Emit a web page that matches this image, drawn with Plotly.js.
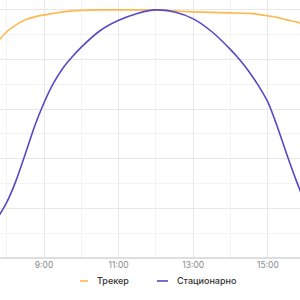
<!DOCTYPE html>
<html>
<head>
<meta charset="utf-8">
<script src="https://cdn.plot.ly/plotly-3.0.1.min.js"></script>
<style>html,body{margin:0;padding:0;background:#fff;}#chart{width:300px;height:300px;}</style>
</head>
<body>
<div id="chart"></div>
<script>
var hours = [7.75, 8.0, 8.25, 8.5, 8.75, 9.0, 9.25, 9.5, 9.75, 10.0, 10.5, 11.0, 11.5, 12.0, 12.5, 13.0, 13.5, 14.0, 14.25, 14.5, 14.75, 15.0, 15.25, 15.5, 15.75, 16.0];
var tracker = [4.35, 4.56, 4.70, 4.80, 4.86, 4.90, 4.93, 4.96, 4.98, 4.99, 5.0, 5.0, 5.0, 5.0, 4.98, 4.96, 4.95, 4.94, 4.935, 4.93, 4.91, 4.88, 4.85, 4.80, 4.76, 4.70];
var stationary = [0.80, 1.12, 1.56, 2.10, 2.66, 3.13, 3.52, 3.82, 4.05, 4.25, 4.58, 4.79, 4.93, 5.0, 4.96, 4.82, 4.56, 4.20, 3.99, 3.75, 3.47, 3.14, 2.65, 2.10, 1.58, 1.10];
var tickVals = [9, 11, 13, 15];
var tickText = ["9:00", "11:00", "13:00", "15:00"];
var seriesNames = ["Трекер", "Стационарно"];
var seriesColors = ["#FFB84D", "#5849C4"];

var traces = [
  {x: hours, y: tracker, name: seriesNames[0], type: 'scatter', mode: 'lines',
   line: {color: seriesColors[0], width: 1.6, shape: 'spline', smoothing: 0.7}},
  {x: hours, y: stationary, name: seriesNames[1], type: 'scatter', mode: 'lines',
   line: {color: seriesColors[1], width: 1.6, shape: 'spline', smoothing: 0.7}}
];

var legendY = -0.089;
var layout = {
  width: 300, height: 300,
  margin: {l: 0, r: 0, t: 0, b: 42},
  paper_bgcolor: '#fff', plot_bgcolor: '#fff',
  showlegend: false,
  xaxis: {
    range: [7.82, 15.86],
    tickmode: 'array', tickvals: tickVals, ticktext: tickText,
    ticks: '', showgrid: true, gridcolor: '#e8e8e8', gridwidth: 1,
    zeroline: false, showline: false,
    tickfont: {family: 'Inter, sans-serif', size: 8.5, color: '#8a8a8a'},
    minor: {tickmode: 'linear', tick0: 0, dtick: 1, showgrid: true, gridcolor: '#f3f3f3', gridwidth: 1}
  },
  yaxis: {
    range: [0, 5.2],
    tickmode: 'linear', tick0: 0, dtick: 1,
    showticklabels: false, ticks: '',
    showgrid: true, gridcolor: '#e8e8e8', gridwidth: 1,
    zeroline: true, zerolinecolor: '#dedede', zerolinewidth: 1.5,
    minor: {tickmode: 'linear', tick0: 0, dtick: 0.5, showgrid: true, gridcolor: '#f3f3f3', gridwidth: 1}
  },
  shapes: [
    {type: 'line', xref: 'paper', yref: 'paper', x0: 80/300, x1: 88/300, y0: legendY, y1: legendY,
     line: {color: seriesColors[0], width: 1.6}},
    {type: 'line', xref: 'paper', yref: 'paper', x0: 157/300, x1: 168/300, y0: legendY, y1: legendY,
     line: {color: seriesColors[1], width: 1.6}}
  ],
  annotations: [
    {xref: 'paper', yref: 'paper', x: 95/300, y: legendY, xanchor: 'left', yanchor: 'middle',
     text: seriesNames[0], showarrow: false,
     font: {family: 'Inter, sans-serif', size: 9, color: '#333', weight: 500}},
    {xref: 'paper', yref: 'paper', x: 175/300, y: legendY, xanchor: 'left', yanchor: 'middle',
     text: seriesNames[1], showarrow: false,
     font: {family: 'Inter, sans-serif', size: 9, color: '#333', weight: 500}}
  ]
};

Plotly.newPlot('chart', traces, layout, {displayModeBar: false, staticPlot: true});
</script>
</body>
</html>
